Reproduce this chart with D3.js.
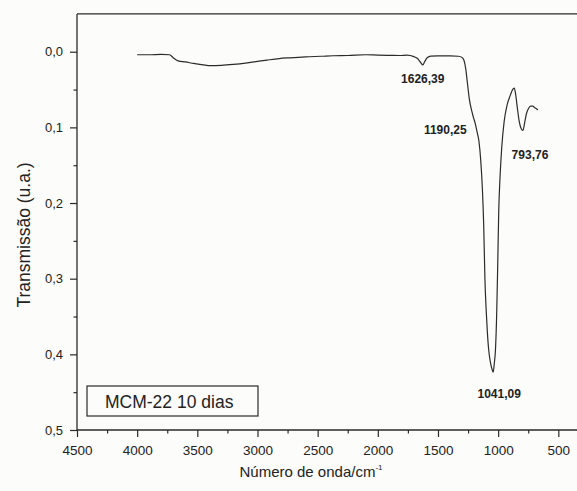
<!DOCTYPE html>
<html>
<head>
<meta charset="utf-8">
<script src="https://cdn.jsdelivr.net/npm/d3@7/dist/d3.min.js"></script>
<style>
  html, body { margin: 0; padding: 0; background: #fcfcfa; }
  svg { display: block; }
  text { font-family: "Liberation Sans", Arial, sans-serif; fill: #222; }
</style>
</head>
<body>
<script>
// FTIR spectrum of MCM-22 (10 days synthesis)
const wavenumbers = [
  4000, 3900, 3800, 3730, 3700, 3660, 3600, 3530, 3450, 3390, 3300, 3200, 3100, 3000,
  2920, 2820, 2730, 2600, 2470, 2370, 2250, 2100, 2000, 1900, 1815, 1760, 1700, 1670,
  1645, 1626.39, 1610, 1590, 1560, 1500, 1400, 1330, 1300, 1285, 1270, 1255, 1240, 1220,
  1205, 1190.25, 1175, 1160, 1145, 1130, 1120, 1110, 1100, 1090, 1080, 1065, 1050,
  1041.09, 1032, 1022, 1012, 1004, 995, 985, 970, 950, 925, 900, 880, 866, 855, 840,
  825, 810, 793.76, 780, 765, 748, 730, 712, 695, 685, 670
];
const transmission = [
  0.004, 0.004, 0.0035, 0.004, 0.008, 0.012, 0.0135, 0.0155, 0.0175, 0.0185, 0.018, 0.0167, 0.015, 0.0128,
  0.011, 0.009, 0.008, 0.0068, 0.006, 0.0053, 0.005, 0.004, 0.0045, 0.0048, 0.005, 0.0045, 0.0065, 0.009,
  0.014, 0.0175, 0.013, 0.008, 0.0058, 0.0055, 0.0055, 0.006, 0.0075, 0.011, 0.022, 0.042, 0.062, 0.078,
  0.087, 0.095, 0.106, 0.118, 0.143, 0.185, 0.23, 0.30, 0.34, 0.37, 0.392, 0.41, 0.42,
  0.4235, 0.412, 0.393, 0.345, 0.285, 0.21, 0.168, 0.126, 0.092, 0.07, 0.058, 0.05, 0.048, 0.056, 0.075,
  0.092, 0.101, 0.104, 0.094, 0.082, 0.075, 0.072, 0.072, 0.074, 0.075, 0.077
];

// Annotated band positions
const peakWavenumbers = [1626.39, 1190.25, 793.76, 1041.09];
const peakLabels = ["1626,39", "1190,25", "793,76", "1041,09"];

const xTicks = [4500, 4000, 3500, 3000, 2500, 2000, 1500, 1000, 500];
const xMinorTicks = [4250, 3750, 3250, 2750, 2250, 1750, 1250, 750];
const yTicks = [0, 0.1, 0.2, 0.3, 0.4, 0.5];
const yMinorTicks = [0.05, 0.15, 0.25, 0.35, 0.45];

const sampleName = "MCM-22 10 dias";
const xTitle = "Número de onda/cm";
const yTitle = "Transmissão (u.a.)";

const W = 577, H = 491;
const svg = d3.select("body").append("svg").attr("width", W).attr("height", H);
svg.append("rect").attr("width", W).attr("height", H).attr("fill", "#fcfcfa");

const plotLeft = 77, plotTop = 13.9, plotBottom = 430;
const x = d3.scaleLinear().domain([4500, 300]).range([plotLeft, plotLeft + 4200 * 0.12033]);
const y = d3.scaleLinear().domain([-0.05, 0.5]).range([plotTop, plotBottom]);

const axisColor = "#2a2a2a";
const fmtComma = v => d3.format(".1f")(v).replace(".", ",");

// bottom axis
const gx = svg.append("g").attr("transform", `translate(0,${plotBottom})`)
  .call(d3.axisBottom(x).tickValues(xTicks).tickSize(7).tickPadding(8).tickSizeOuter(0).tickFormat(d3.format("d")));
gx.selectAll("text").style("font-size", "13.5px").attr("fill", "#222");
svg.append("g").attr("transform", `translate(0,${plotBottom})`)
  .call(d3.axisBottom(x).tickValues(xMinorTicks).tickSize(3.5).tickFormat(""))
  .call(g => g.select(".domain").remove());

// left axis
const gy = svg.append("g").attr("transform", `translate(${plotLeft},0)`)
  .call(d3.axisLeft(y).tickValues(yTicks).tickSize(7).tickPadding(7).tickSizeOuter(0).tickFormat(fmtComma));
gy.selectAll("text").style("font-size", "13px").attr("fill", "#222");
svg.append("g").attr("transform", `translate(${plotLeft},0)`)
  .call(d3.axisLeft(y).tickValues(yMinorTicks).tickSize(3.5).tickFormat(""))
  .call(g => g.select(".domain").remove());

svg.selectAll(".domain").remove();
svg.selectAll(".tick line").attr("stroke", axisColor).attr("stroke-width", 1.2);

// frame lines (left, bottom, top)
const frame = svg.append("g").attr("stroke", axisColor).attr("stroke-width", 1.3).attr("fill", "none");
frame.append("line").attr("x1", plotLeft).attr("x2", plotLeft).attr("y1", plotTop).attr("y2", plotBottom);
frame.append("line").attr("x1", plotLeft).attr("x2", W).attr("y1", plotBottom).attr("y2", plotBottom);
frame.append("line").attr("x1", plotLeft).attr("x2", W).attr("y1", plotTop).attr("y2", plotTop);

// spectrum
const pts = wavenumbers.map((w, i) => [w, transmission[i]]);
const line = d3.line().x(d => x(d[0])).y(d => y(d[1])).curve(d3.curveMonotoneX);
svg.append("path").datum(pts).attr("d", line)
  .attr("fill", "none").attr("stroke", "#2b2b2b").attr("stroke-width", 1.2).attr("stroke-linejoin", "round");

// band labels, placed relative to the band they annotate
const valueAt = w => transmission[wavenumbers.indexOf(w)];
const labelOffsets = [[0, 18], [-30, 10.5], [7, 28.6], [6, 25.4]];
peakWavenumbers.forEach((w, i) => {
  svg.append("text")
    .attr("x", x(w) + labelOffsets[i][0])
    .attr("y", y(valueAt(w)) + labelOffsets[i][1])
    .attr("text-anchor", "middle")
    .style("font-size", "12px").style("font-weight", "bold")
    .text(peakLabels[i]);
});

// sample label box
svg.append("rect").attr("x", 87).attr("y", 386).attr("width", 171).attr("height", 30)
  .attr("fill", "none").attr("stroke", axisColor).attr("stroke-width", 1.2);
svg.append("text").attr("x", 105).attr("y", 408).style("font-size", "17.5px").text(sampleName);

// axis titles
const xt = svg.append("text").attr("x", 311).attr("y", 477).attr("text-anchor", "middle").style("font-size", "15px");
xt.append("tspan").text(xTitle);
xt.append("tspan").attr("dy", -7).style("font-size", "8px").text("-1");

svg.append("text").attr("transform", "translate(30,235) rotate(-90)")
  .attr("text-anchor", "middle").style("font-size", "17.5px").text(yTitle);
</script>
</body>
</html>
